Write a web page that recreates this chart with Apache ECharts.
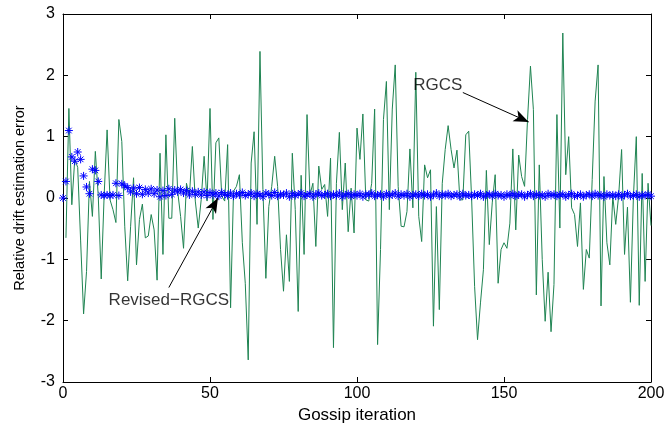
<!DOCTYPE html>
<html>
<head>
<meta charset="utf-8">
<script src="https://cdn.jsdelivr.net/npm/echarts@6/dist/echarts.min.js"></script>
<style>html,body{margin:0;padding:0;background:#fff}#c{width:665px;height:426px}</style>
</head>
<body>
<div id="c"></div>
<script>
// RGCS (green line), iterations 1..200
const rgcs = [
-0.65,1.46,-0.11,0.63,0.5,-0.7,-1.89,-1.2,0.27,-0.3,
0.76,0.03,-1.32,0.05,1.11,-0.03,-0.19,-0.4,1.28,0.92,
-0.46,-1.35,-0.46,0.33,-1.09,-0.35,-0.1,-0.65,-0.62,-0.27,
-0.52,-1.34,0.73,-0.92,1.03,-0.33,-0.33,1.3,0.11,-0.3,
-0.82,0.24,0.03,0.84,-0.05,-0.49,-0.03,0.68,-0.05,1.46,
-0.35,0.9,0.98,0.03,-0.05,0.87,-1.79,0.11,0.19,0.38,
-0.73,-1.39,-2.64,0.57,1.08,-0.43,2.39,0.14,-1.31,-0.14,
0.19,0.68,0.19,-0.84,-1.52,-0.6,-1.36,0.73,-0.19,-1.85,
0.37,-0.92,1.36,0.05,0.24,-0.79,0.52,0.14,0.22,-0.3,
0.65,-2.44,0.24,1.07,-0.19,0.57,-0.55,0.16,-0.57,1.14,
0.63,1.37,-0.03,-0.05,0.24,1.45,-2.39,-0.84,1.28,1.9,
-0.19,1.45,2.17,0.19,-0.46,-0.47,-0.22,0.8,-0.16,2.05,
-0.3,-0.71,0.54,0.33,0.46,-2.09,-0.14,-1.82,0.24,0.79,
1.18,0.79,0.49,0.78,-0.03,-0.03,1.03,1.09,-0.03,-1.44,
-2.31,-1.71,-1.17,0.45,-0.76,-0.08,0.38,-1.39,-0.84,-0.73,
-0.82,-0.41,0.8,-0.52,0.7,0.35,0.19,1.28,2.15,1.44,
-1.58,0.54,-1.0,-2.01,-1.21,-2.18,-1.41,1.36,-0.49,2.69,
0.38,1.0,-0.16,-0.27,-0.79,-0.08,-1.49,-0.84,-0.98,0.3,
1.58,2.17,-1.76,0.35,-0.73,-1.09,0.03,-0.43,0.04,0.79,
-0.92,-0.15,-1.7,0.0,1.0,-1.75,0.4,-1.36,0.24,-0.45
];
// Revised-RGCS (blue asterisks), iterations 0..200
const revised = [
0.0,0.27,1.1,0.67,0.6,0.75,0.63,0.36,0.18,0.07,
0.47,0.45,0.27,0.05,0.04,0.05,0.04,0.05,0.24,0.04,
0.23,0.2,0.17,0.1,0.16,0.07,0.17,0.06,0.14,0.08,
0.15,0.07,0.13,0.02,0.12,0.04,0.15,0.06,0.13,0.1,
0.14,0.08,0.12,0.05,0.11,0.06,0.1,0.05,0.1,0.04,
0.09,0.05,0.08,0.03,0.09,0.06,0.04,0.08,0.03,0.07,
0.05,0.09,0.04,0.06,0.08,0.03,0.07,0.05,0.02,0.08,
0.06,0.04,0.09,0.03,0.06,0.05,0.08,0.02,0.07,0.04,
0.06,0.08,0.03,0.05,0.07,0.02,0.06,0.08,0.04,0.05,
0.07,0.03,0.06,0.04,0.08,0.02,0.05,0.07,0.03,0.06,
0.04,0.07,0.02,0.06,0.05,0.08,0.03,0.05,0.06,0.02,
0.07,0.04,0.05,0.08,0.03,0.06,0.04,0.07,0.02,0.05,
0.06,0.03,0.07,0.04,0.06,0.02,0.05,0.08,0.03,0.06,
0.04,0.07,0.03,0.05,0.06,0.02,0.07,0.04,0.05,0.03,
0.06,0.04,0.07,0.02,0.05,0.06,0.03,0.07,0.04,0.05,
0.02,0.06,0.04,0.07,0.03,0.05,0.06,0.02,0.05,0.07,
0.03,0.06,0.04,0.05,0.02,0.07,0.04,0.06,0.03,0.05,
0.06,0.02,0.05,0.07,0.03,0.04,0.06,0.02,0.05,0.06,
0.03,0.07,0.04,0.05,0.02,0.06,0.04,0.05,0.03,0.06,
0.02,0.05,0.07,0.03,0.04,0.06,0.02,0.05,0.04,0.06,
0.03
];
const xTicks = [0, 50, 100, 150, 200];
const yTicks = [-3, -2, -1, 0, 1, 2, 3];
// annotation anchors (data space): [text, textX, textY, tailX, tailY, headX, headY]
const annRevised = ['Revised\u2212RGCS', 36, -1.66, 36, -1.46, 52.7, 0.0];
const annRGCS = ['RGCS', 127.5, 1.84, 136, 1.72, 158.4, 1.24];

const rgcsData = rgcs.map((v, i) => [i + 1, v]);
const revData = revised.map((v, i) => [i, v]);
const font = 'Liberation Sans, Arial, Helvetica, sans-serif';

const chart = echarts.init(document.getElementById('c'), null, {renderer: 'canvas'});
const axisCommon = {
  axisLine: {show: true, onZero: false, lineStyle: {color: '#000', width: 1}},
  axisTick: {show: true, inside: true, length: 5, lineStyle: {color: '#000'}},
  splitLine: {show: false}
};
chart.setOption({
  animation: false,
  backgroundColor: '#fff',
  grid: {left: 63, right: 14, top: 14, bottom: 44, containLabel: false, outerBoundsMode: 'none'},
  xAxis: [
    Object.assign({type: 'value', min: 0, max: 200, interval: 50, position: 'bottom',
      name: 'Gossip iteration', nameLocation: 'middle', nameGap: 21,
      nameTextStyle: {fontFamily: font, fontSize: 17, color: '#000'},
      axisLabel: {fontFamily: font, fontSize: 16, color: '#000', margin: 4,
        formatter: v => xTicks.includes(v) ? String(v) : ''}}, axisCommon),
    Object.assign({type: 'value', min: 0, max: 200, interval: 50, position: 'top',
      axisLabel: {show: false}}, axisCommon)
  ],
  yAxis: [
    Object.assign({type: 'value', min: -3, max: 3, interval: 1, position: 'left',
      name: 'Relative drift estimation error', nameLocation: 'middle', nameGap: 36,
      nameTextStyle: {fontFamily: font, fontSize: 14.5, color: '#000'},
      axisLabel: {fontFamily: font, fontSize: 16, color: '#000', margin: 8,
        formatter: v => yTicks.includes(v) ? String(v) : ''}}, axisCommon),
    Object.assign({type: 'value', min: -3, max: 3, interval: 1, position: 'right',
      axisLabel: {show: false}}, axisCommon)
  ],
  series: [
    {
      type: 'line', data: rgcsData, symbol: 'none', z: 2,
      lineStyle: {color: '#1f8452', width: 1},
      markLine: {
        silent: true, symbol: ['none', 'arrow'], symbolSize: [9, 15],
        lineStyle: {color: '#000', width: 1, type: 'solid'},
        label: {show: false},
        data: [
          [{coord: [annRevised[3], annRevised[4]]}, {coord: [annRevised[5], annRevised[6]]}],
          [{coord: [annRGCS[3], annRGCS[4]]}, {coord: [annRGCS[5], annRGCS[6]]}]
        ]
      }
    },
    {
      type: 'scatter', data: revData, z: 3,
      symbol: 'path://M0,5L10,5M5,0L5,10M1.5,1.5L8.5,8.5M8.5,1.5L1.5,8.5',
      symbolSize: 8,
      itemStyle: {color: 'rgba(0,0,0,0)', borderColor: '#0000ff', borderWidth: 1, opacity: 1}
    },
    {
      type: 'scatter', silent: true, symbolSize: 0, z: 5,
      data: [[annRevised[1], annRevised[2], annRevised[0]], [annRGCS[1], annRGCS[2], annRGCS[0]]],
      label: {show: true, position: 'inside', formatter: p => p.data[2],
        fontFamily: font, fontSize: 17, color: '#000'}
    }
  ]
});
</script>
</body>
</html>
